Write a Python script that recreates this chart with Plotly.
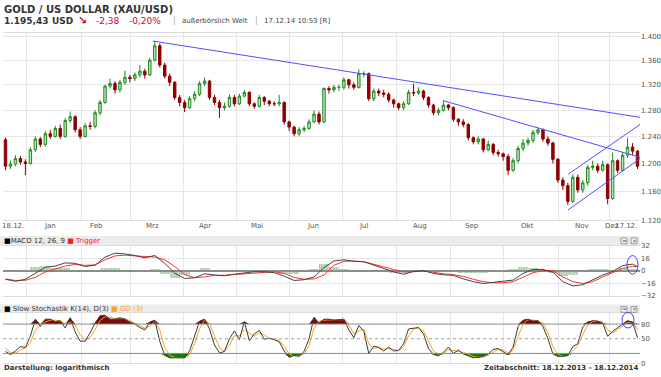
import math
import plotly.graph_objects as go

W, H = 661, 377
def px(x): return x / W
def py(y): return 1 - y / H

# ---------------- data ----------------
first_open = 1235
closes = [1196,1199,1207,1202,1200,1220,1236,1228,1244,1240,
          1252,1240,1264,1270,1250,1240,1256,1255,1276,1292,
          1318,1322,1312,1324,1332,1330,1336,1342,1336,1360,
          1384,1352,1334,1324,1300,1292,1284,1298,1305,1322,
          1326,1300,1292,1284,1286,1300,1290,1302,1308,1290,
          1286,1300,1294,1290,1290,1292,1262,1254,1244,1250,
          1252,1262,1274,1262,1314,1312,1316,1316,1328,1320,
          1316,1338,1338,1298,1310,1307,1305,1296,1290,1284,
          1290,1308,1307,1310,1300,1288,1276,1280,1288,1284,
          1266,1262,1258,1238,1232,1236,1220,1228,1216,1214,
          1210,1190,1204,1222,1230,1234,1246,1250,1236,1230,
          1206,1176,1168,1146,1180,1162,1172,1194,1196,1190,
          1198,1150,1204,1190,1212,1224,1218,1196]
highs = [1238,1204,1212,1211,1206,1224,1240,1239,1248,1250,
         1256,1258,1268,1278,1272,1254,1260,1262,1280,1296,
         1320,1330,1326,1328,1343,1336,1340,1352,1346,1364,
         1392,1388,1356,1338,1326,1304,1296,1302,1310,1326,
         1332,1328,1304,1296,1292,1305,1304,1306,1312,1310,
         1292,1304,1302,1296,1294,1304,1294,1264,1256,1254,
         1256,1266,1280,1278,1316,1318,1320,1320,1332,1330,
         1324,1345,1342,1340,1314,1314,1312,1308,1298,1292,
         1294,1312,1322,1316,1312,1302,1290,1284,1295,1290,
         1286,1268,1266,1260,1240,1240,1238,1234,1230,1220,
         1216,1214,1208,1226,1236,1238,1250,1254,1252,1240,
         1232,1208,1180,1172,1184,1184,1176,1198,1204,1200,
         1204,1200,1216,1206,1216,1238,1230,1220]
lows = [1190,1192,1196,1198,1183,1198,1217,1224,1225,1236,
        1238,1236,1238,1260,1246,1236,1238,1250,1252,1272,
        1290,1314,1306,1308,1320,1324,1326,1332,1330,1334,
        1358,1348,1330,1318,1296,1286,1277,1282,1294,1302,
        1318,1296,1288,1268,1280,1284,1286,1288,1300,1286,
        1282,1284,1288,1286,1286,1286,1258,1248,1240,1240,
        1246,1250,1260,1258,1260,1306,1308,1310,1312,1314,
        1312,1314,1332,1294,1294,1302,1300,1292,1284,1280,
        1280,1288,1302,1304,1296,1284,1272,1272,1278,1280,
        1262,1256,1254,1234,1228,1228,1216,1218,1212,1210,
        1204,1183,1188,1200,1218,1226,1230,1242,1232,1226,
        1200,1172,1162,1141,1144,1158,1158,1168,1190,1186,
        1188,1142,1148,1186,1188,1208,1212,1192]
opens = [first_open] + closes[:-1]
candle_idx = list(range(len(closes)))

# trend lines (candle index, price)
trend_x0 = [29.6, 87.9, 113.0, 113.0]
trend_p0 = [1392, 1295, 1184, 1134]
trend_x1 = [127.5, 127.5, 127.5, 127.5]
trend_p1 = [1269, 1209, 1258, 1207]

macd_x = list(range(0, 128, 2)) + [127]
macd_line = [-11,-13.5,-11,-3,4.5,6,10,9.5,5.5,7,
             17.5,22.5,21.5,19.5,16.5,19.5,9.5,-3,-10,-9,
             -4,-5.5,-6.5,-4.5,-2.8,-1.3,-1.3,-2.5,-7,-12.5,
             -11.5,-8,4,12.5,14,12,11.5,7,3.5,-1.5,
             -4.5,-1,0,-3.5,-5.2,-6,-10.5,-14,-16.4,-15,
             -14,-12,-3.5,1.5,1.7,-2,-14,-19.5,-18,-12,
             -5.5,-1,6.5,8.5,5]
macd_trigger = [-10.5,-12.5,-12.3,-8.5,-1.5,2.7,6,8,6.8,7.5,
                14,19,20,19,18,17.5,14,5.5,-5,-9,
                -8,-6,-5.8,-4.8,-3.5,-2.4,-1.5,-1.3,-3.5,-8.5,
                -11,-10.5,-5.5,7,12,12.5,11.5,8.5,5,1.5,
                -1.5,-1.2,-0.5,-2,-4,-5,-7.3,-11,-14,-15.5,
                -15.5,-14,-8,-2.5,0,0,-8,-14,-16.4,-14,
                -8,-2.5,3,5.5,5]
macd_hist = [m - t for m, t in zip(macd_line, macd_trigger)]

stoch_k = [24,18,25,34,32,55,90,75,90,90,
           85,87,72,93,64,45,45,62,82,97,
           98,90,90,93,90,84,80,73,68,84,
           88,45,16,11,11,11,11,25,58,86,
           90,70,37,21,24,50,66,48,85,46,
           60,67,49,51,48,44,25,12,16,14,
           24,50,94,82,90,90,88,89,90,68,
           52,77,65,20,35,32,25,33,25,26,
           40,70,72,73,60,30,18,15,22,33,
           20,27,19,15,11,12,14,19,28,30,
           24,17,33,75,88,90,86,87,75,50,
           19,14,14,16,34,40,74,84,87,86,
           82,55,65,72,80,87,84,52]
stoch_d = [30,22,21,27,32,42,68,80,84,88,
           88,86,80,84,78,58,48,52,68,87,
           95,94,91,91,91,87,82,77,71,76,
           85,68,32,16,12,11,11,17,40,70,
           88,80,55,32,24,36,56,56,68,62,
           55,62,58,51,49,46,35,19,15,15,
           19,36,72,86,88,89,89,89,89,78,
           60,66,70,40,30,33,29,30,28,26,
           33,56,70,72,66,44,25,18,19,28,
           26,24,22,18,14,12,13,16,23,28,
           27,21,26,54,80,89,88,87,81,62,
           34,18,14,15,25,36,58,78,85,86,
           84,68,62,68,76,83,85,68]

month_labels = ['Jan','Feb','Mrz','Apr','Mai','Jun','Jul','Aug','Sep','Okt','Nov','Dez']
month_start = [4.32,15.37,25.02,35.67,46.32,56.97,67.81,78.66,89.51,100.16,111.21,121.46]
month_label_pos = [8.94,18.19,29.44,40.09,50.53,61.79,72.03,83.28,93.73,104.98,115.83,121.9]

price_ticks = [1120,1160,1200,1240,1280,1320,1360,1400]
price_tick_text = ['1.120','1.160','1.200','1.240','1.280','1.320','1.360','1.400']
macd_ticks = [-32,-16,0,16,32]
stoch_ticks = [0,50,80]
stoch_upper, stoch_mid, stoch_lower = 80, 50, 20

FONT = 'DejaVu Sans'
GRID = '#e6e6e6'
XR = [-0.5, 127.5]

fig = go.Figure()

# ---- main candles ----
fig.add_trace(go.Candlestick(
    x=candle_idx, open=opens, high=highs, low=lows, close=closes,
    xaxis='x', yaxis='y', whiskerwidth=0,
    increasing=dict(line=dict(color='#1f8a1f', width=1), fillcolor='#bfe3bf'),
    decreasing=dict(line=dict(color='#8f0000', width=1), fillcolor='#8f0000'),
    showlegend=False, hoverinfo='skip'))

for a, b, c, d in zip(trend_x0, trend_p0, trend_x1, trend_p1):
    fig.add_trace(go.Scatter(x=[a, c], y=[b, d], mode='lines', xaxis='x', yaxis='y',
                             line=dict(color='#5050ff', width=1), showlegend=False, hoverinfo='skip'))

# ---- MACD ----
fig.add_trace(go.Bar(x=macd_x, y=macd_hist, xaxis='x2', yaxis='y2', width=2,
                     marker=dict(color='rgba(0,0,0,0)', line=dict(width=0),
                                 pattern=dict(shape='|', fgcolor='#5d8a5d', bgcolor='rgba(160,190,160,0.25)',
                                              size=2.5, solidity=0.6)),
                     showlegend=False, hoverinfo='skip'))
fig.add_trace(go.Scatter(x=macd_x, y=macd_trigger, mode='lines', xaxis='x2', yaxis='y2',
                         line=dict(color='#ff3030', width=1), showlegend=False, hoverinfo='skip'))
fig.add_trace(go.Scatter(x=macd_x, y=macd_line, mode='lines', xaxis='x2', yaxis='y2',
                         line=dict(color='#444444', width=1), showlegend=False, hoverinfo='skip'))

# ---- Stochastic ----
up_clip = [max(k, stoch_upper) for k in stoch_k]
lo_clip = [min(k, stoch_lower) for k in stoch_k]
fig.add_trace(go.Scatter(x=candle_idx, y=[stoch_upper]*len(stoch_k), mode='lines', xaxis='x3', yaxis='y3',
                         line=dict(width=0, color='rgba(0,0,0,0)'), showlegend=False, hoverinfo='skip'))
fig.add_trace(go.Scatter(x=candle_idx, y=up_clip, mode='lines', xaxis='x3', yaxis='y3', fill='tonexty',
                         fillcolor='#7a0a0a', line=dict(width=0, color='rgba(0,0,0,0)'),
                         showlegend=False, hoverinfo='skip'))
fig.add_trace(go.Scatter(x=candle_idx, y=[stoch_lower]*len(stoch_k), mode='lines', xaxis='x3', yaxis='y3',
                         line=dict(width=0, color='rgba(0,0,0,0)'), showlegend=False, hoverinfo='skip'))
fig.add_trace(go.Scatter(x=candle_idx, y=lo_clip, mode='lines', xaxis='x3', yaxis='y3', fill='tonexty',
                         fillcolor='#0b7d0b', line=dict(width=0, color='rgba(0,0,0,0)'),
                         showlegend=False, hoverinfo='skip'))
fig.add_trace(go.Scatter(x=candle_idx, y=stoch_d, mode='lines', xaxis='x3', yaxis='y3',
                         line=dict(color='#f5a623', width=1), showlegend=False, hoverinfo='skip'))
fig.add_trace(go.Scatter(x=candle_idx, y=stoch_k, mode='lines', xaxis='x3', yaxis='y3',
                         line=dict(color='#3a3a3a', width=1), showlegend=False, hoverinfo='skip'))

tickfont = dict(family=FONT, size=7, color='#555555')
xcommon = dict(range=XR, tickvals=month_start, showticklabels=False, showgrid=True,
               gridcolor=GRID, gridwidth=1, zeroline=False, ticks='', fixedrange=True,
               domain=[px(3), px(640)], showline=True, linecolor='#dddddd', linewidth=1, mirror=True)

fig.update_layout(
    width=W, height=H, margin=dict(l=0, r=0, t=0, b=0),
    paper_bgcolor='white', plot_bgcolor='white', showlegend=False,
    boxgap=0.3, bargap=0,
    xaxis=dict(anchor='y', rangeslider=dict(visible=False), **xcommon),
    xaxis2=dict(anchor='y2', **xcommon),
    xaxis3=dict(anchor='y3', **xcommon),
    yaxis=dict(type='log', range=[math.log10(1120), 3.14768], domain=[py(221), py(30)],
               side='right', tickvals=price_ticks, ticktext=price_tick_text, tickfont=tickfont,
               showgrid=True, gridcolor=GRID, zeroline=False, ticks='', anchor='x', fixedrange=True),
    yaxis2=dict(range=[-32, 32], domain=[py(298), py(247)], side='right', tickvals=macd_ticks,
                tickfont=tickfont, showgrid=True, gridcolor=GRID, zeroline=True,
                zerolinecolor='#8c8c8c', zerolinewidth=2, ticks='', anchor='x2', fixedrange=True),
    yaxis3=dict(range=[0, 102], domain=[py(367), py(316)], side='right', tickvals=stoch_ticks,
                tickfont=tickfont, showgrid=False, zeroline=False, ticks='', anchor='x3', fixedrange=True),
)

shapes = []
# panel header bands
for y0, y1 in [(237, 247), (307, 316)]:
    shapes.append(dict(type='rect', xref='paper', yref='paper', x0=px(0), x1=px(640),
                       y0=py(y1), y1=py(y0), fillcolor='#ebebeb', line=dict(width=0), layer='below'))
    for bx in (621, 631):
        shapes.append(dict(type='rect', xref='paper', yref='paper', x0=px(bx), x1=px(bx + 6),
                           y0=py(y0 + 8), y1=py(y0 + 2), fillcolor='#f4f4f4',
                           line=dict(color='#9a9a9a', width=1)))
# stochastic reference lines
for lvl, dash, col in [(stoch_upper, 'solid', '#8a8a8a'), (stoch_lower, 'solid', '#8a8a8a'),
                       (stoch_mid, 'dot', '#a0a0a0')]:
    shapes.append(dict(type='line', xref='x3 domain', yref='y3', x0=0, x1=1, y0=lvl, y1=lvl,
                       line=dict(color=col, width=1, dash=dash)))
# blue marker ellipses
shapes.append(dict(type='circle', xref='paper', yref='paper', x0=px(627), x1=px(638),
                   y0=py(276), y1=py(257), line=dict(color='#4040ff', width=1)))
shapes.append(dict(type='circle', xref='paper', yref='paper', x0=px(622), x1=px(634),
                   y0=py(331), y1=py(315), line=dict(color='#4040ff', width=1)))
fig.update_layout(shapes=shapes)

ann = []
def A(x, y, text, size=7, color='#333333', anchor='left', bold=False):
    t = f'<b>{text}</b>' if bold else text
    ann.append(dict(x=px(x), y=py(y), xref='paper', yref='paper', text=t, showarrow=False,
                    xanchor=anchor, yanchor='middle',
                    font=dict(family=FONT, size=size, color=color)))

A(2, 6, 'GOLD / US DOLLAR (XAU/USD)', size=10, color='#333333', bold=True)
A(2, 17, '1.195,43', size=9, color='#333333', bold=True)
A(50, 17, 'USD', size=9, color='#333333', bold=True)
A(76, 17, '↘', size=11, color='#d4003a', bold=True)
A(94, 17, '-2,38', size=9, color='#d4003a')
A(127, 17, '-0,20%', size=9, color='#d4003a')
A(171, 17, '|', size=8, color='#aaaaaa')
A(180, 17, 'außerbörslich Welt', size=7, color='#444444')
A(253, 17, '|', size=8, color='#aaaaaa')
A(262, 17, '17.12.14 10:53 [R]', size=7, color='#444444')

# x labels of main chart
A(0, 227, '18.12.', size=7, color='#555555')
for lbl, pos in zip(month_labels, month_label_pos):
    ann.append(dict(x=pos, y=py(227), xref='x', yref='paper', text=lbl, showarrow=False,
                    xanchor='center', yanchor='middle', font=dict(family=FONT, size=7, color='#555555')))
A(639, 227, '17.12.', size=7, color='#555555', anchor='right')

# panel legends
A(2, 242, '<span style="color:#000">■</span>MACD 12, 26, 9 <span style="color:#ff2020">■ Trigger</span>',
  size=7, color='#333333')
A(2, 312, '<span style="color:#000">■</span> Slow Stochastik K(14), D(3) <span style="color:#f5a623">■ GD (3)</span>',
  size=7, color='#333333')
A(624, 242, '=', size=6, color='#555555', anchor='center')
A(634, 242, '×', size=6, color='#555555', anchor='center')
A(624, 311.5, '=', size=6, color='#555555', anchor='center')
A(634, 311.5, '×', size=6, color='#555555', anchor='center')

# footer
A(2, 372, 'Darstellung: logarithmisch', size=7, color='#333333', bold=True)
A(640, 372, 'Zeitabschnitt: 18.12.2013 - 18.12.2014', size=7, color='#333333', anchor='right', bold=True)

fig.update_layout(annotations=ann)
fig.write_html('out.html', config={'displayModeBar': False},
               post_script="document.body.style.margin='0';document.body.style.overflow='hidden';")
